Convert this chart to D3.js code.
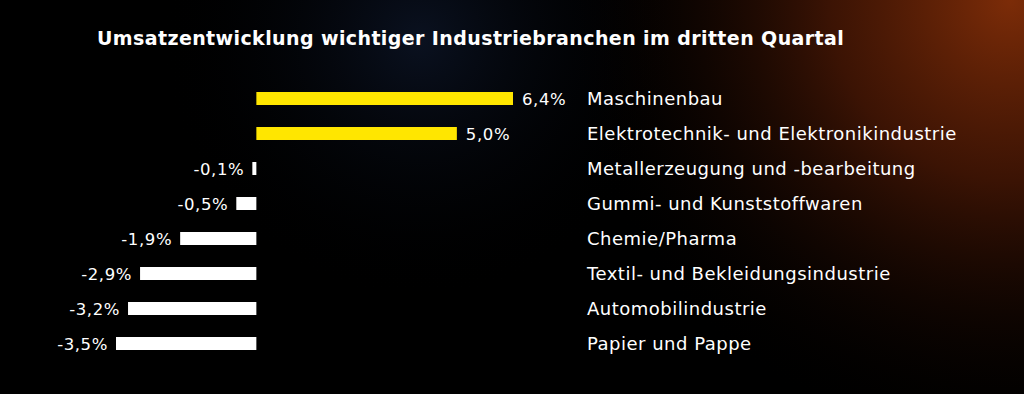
<!DOCTYPE html>
<html>
<head>
<meta charset="utf-8">
<script src="https://cdn.jsdelivr.net/npm/d3@7"></script>
<style>
    html, body { margin: 0; padding: 0; background: #000; }
    text { font-family: "DejaVu Sans", sans-serif; fill: #fff; }
</style>
</head>
<body>
<div id="canvas"></div>
<script>
"use strict"

let svgWidth = 1024
let svgHeight = 394

// values
let branches = [
    "Maschinenbau",
    "Elektrotechnik- und Elektronikindustrie",
    "Metallerzeugung und -bearbeitung",
    "Gummi- und Kunststoffwaren",
    "Chemie/Pharma",
    "Textil- und Bekleidungsindustrie",
    "Automobilindustrie",
    "Papier und Pappe"
]
let changes = [6.4, 5.0, -0.1, -0.5, -1.9, -2.9, -3.2, -3.5]
let valueLabels = ["6,4%", "5,0%", "-0,1%", "-0,5%", "-1,9%", "-2,9%", "-3,2%", "-3,5%"]
let title = "Umsatzentwicklung wichtiger Industriebranchen im dritten Quartal"

let svg = d3.select("#canvas")
    .append("svg")
    .attr("width", svgWidth)
    .attr("height", svgHeight)

let defs = svg.append("defs")

let glow = defs.append("radialGradient")
    .attr("id", "glow")
    .attr("gradientUnits", "userSpaceOnUse")
    .attr("cx", 1010).attr("cy", 0).attr("r", 450)
glow.append("stop").attr("offset", "0%").attr("stop-color", "#7c2c08").attr("stop-opacity", 1)
glow.append("stop").attr("offset", "40%").attr("stop-color", "#4a1805").attr("stop-opacity", 0.8)
glow.append("stop").attr("offset", "100%").attr("stop-color", "#000").attr("stop-opacity", 0)

let blue = defs.append("radialGradient")
    .attr("id", "blue")
    .attr("gradientUnits", "userSpaceOnUse")
    .attr("cx", 420).attr("cy", 40).attr("r", 260)
blue.append("stop").attr("offset", "0%").attr("stop-color", "#0a1120").attr("stop-opacity", 1)
blue.append("stop").attr("offset", "100%").attr("stop-color", "#000").attr("stop-opacity", 0)

svg.append("rect")
    .attr("width", svgWidth)
    .attr("height", svgHeight)
    .attr("fill", "#000")
svg.append("rect")
    .attr("width", svgWidth)
    .attr("height", svgHeight)
    .attr("fill", "url(#blue)")
svg.append("rect")
    .attr("width", svgWidth)
    .attr("height", svgHeight)
    .attr("fill", "url(#glow)")

svg.append("text")
    .attr("x", 97)
    .attr("y", 45)
    .attr("font-size", 19)
    .attr("font-weight", "bold")
    .attr("letter-spacing", 0.4)
    .text(title)

let rows = branches.map(function (name, i) {
    return { name: name, value: changes[i], label: valueLabels[i] }
})

let xScale = d3.scaleLinear()
    .domain([-3.5, 6.4])
    .range([116, 513])

let yScale = d3.scalePoint()
    .domain(branches)
    .range([98.5, 343.5])

let barHeight = 13

let viz = svg.append("g")

viz.selectAll("rect.bar")
    .data(rows)
    .join("rect")
    .classed("bar", true)
    .attr("x", function (d) { return xScale(Math.min(0, d.value)) })
    .attr("y", function (d) { return yScale(d.name) - barHeight / 2 })
    .attr("width", function (d) { return Math.abs(xScale(d.value) - xScale(0)) })
    .attr("height", barHeight)
    .attr("fill", function (d) { return d.value > 0 ? "#ffe600" : "#fff" })

viz.selectAll("text.value")
    .data(rows)
    .join("text")
    .classed("value", true)
    .attr("x", function (d) { return d.value > 0 ? xScale(d.value) + 9 : xScale(d.value) - 8 })
    .attr("y", function (d) { return yScale(d.name) + 6 })
    .attr("text-anchor", function (d) { return d.value > 0 ? "start" : "end" })
    .attr("font-size", 16.5)
    .attr("letter-spacing", 0.6)
    .text(function (d) { return d.label })

viz.selectAll("text.name")
    .data(rows)
    .join("text")
    .classed("name", true)
    .attr("x", 587)
    .attr("y", function (d) { return yScale(d.name) + 6.5 })
    .attr("font-size", 18)
    .attr("letter-spacing", 0.5)
    .text(function (d) { return d.name })
</script>
</body>
</html>
